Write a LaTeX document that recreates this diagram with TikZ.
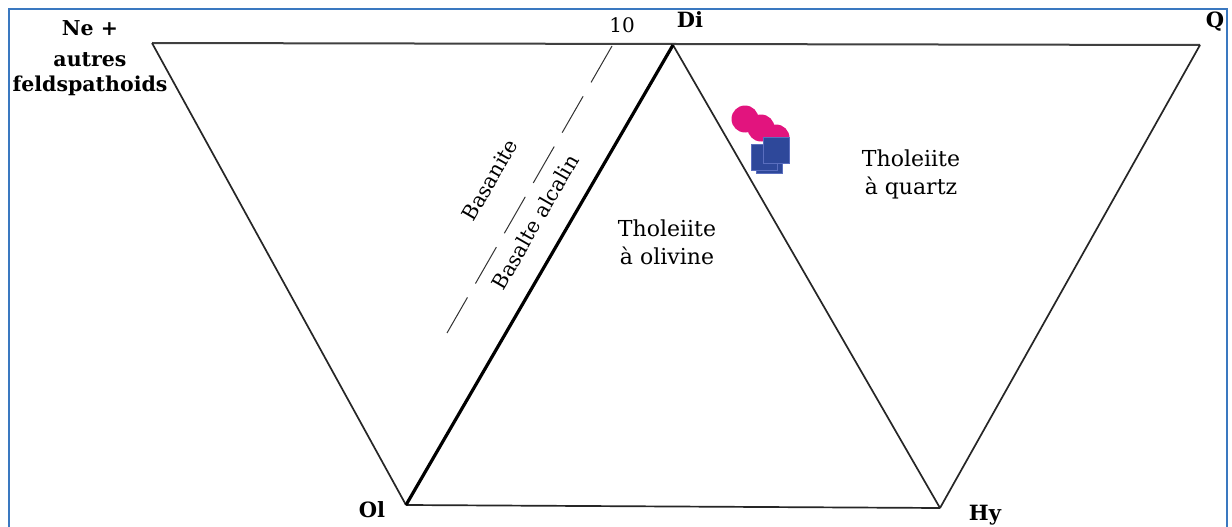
\documentclass[tikz,border=0pt]{standalone}
\usepackage{fontspec}
\setmainfont{DejaVu Serif}
\definecolor{framec}{RGB}{58,120,192}
\definecolor{pinkc}{RGB}{226,20,126}
\definecolor{bluec}{RGB}{46,72,154}
\definecolor{blueedge}{RGB}{90,110,190}
\begin{document}
\begin{tikzpicture}[x=1pt,y=-1pt,
  edge/.style={line width=1.7pt,black!85},
  thickedge/.style={line width=3.2pt,black},
  dashline/.style={line width=1pt,black!80,dash pattern=on 42pt off 16pt},
  vlabel/.style={font=\bfseries\fontsize{21}{24}\selectfont,inner sep=0pt},
  field/.style={font=\fontsize{22}{28}\selectfont,align=center,inner sep=0pt},
  rotlabel/.style={font=\fontsize{20.5}{22}\selectfont,inner sep=0pt,rotate=60},
  pinkdot/.style={circle,fill=pinkc,minimum size=27pt,inner sep=0pt},
  bluesq/.style={rectangle,fill=bluec,draw=blueedge,line width=0.6pt,minimum size=26pt,inner sep=0pt}
]
\useasboundingbox (0,0) rectangle (1232,527);
\fill[white] (0,0) rectangle (1232,527);
% frame
\draw[line width=2pt,color=framec] (8.5,560) -- (8.5,9) -- (1227,9) -- (1227,560);
% vertices
\coordinate (Ne) at (152,43);
\coordinate (Di) at (673,45);
\coordinate (Q) at (1200,45);
\coordinate (Ol) at (406,505);
\coordinate (Hy) at (940,508);
\coordinate (d1) at (447,333);
\coordinate (d2) at (612,46);
% lines
\draw[line width=2pt,black!75] (Ne) -- (Q);
\draw[edge] (Ne) -- (Ol);
\draw[edge] (Ol) -- (Hy);
\draw[edge] (Di) -- (Hy);
\draw[edge] (Hy) -- (Q);
\draw[thickedge] (Ol) -- (Di);
\draw[dashline] (d2) -- (d1);
% labels
\node[vlabel,align=center,font=\bfseries\fontsize{20.5}{25}\selectfont] (lne) at (90,58) {Ne +\\[6pt]autres\\feldspathoids};
\node[vlabel] (ldi) at (690,20) {Di};
\node[vlabel] (lq) at (1215,22) {Q};
\node[vlabel] (lol) at (372,510) {Ol};
\node[vlabel] (lhy) at (985,515) {Hy};
\node[font=\fontsize{20}{22}\selectfont,inner sep=0pt] (l10) at (622,25) {10};
\node[field] (tol) at (667,242) {Tholeiite\\à olivine};
\node[field] (tqz) at (911,174) {Tholeiite\\à quartz};
\node[rotlabel] (bsn) at (490,180) {Basanite};
\node[rotlabel] (bal) at (535,222) {Basalte alcalin};
% data points
\node[pinkdot] (p1) at (745,119) {};
\node[pinkdot] (p2) at (761,128) {};
\node[pinkdot] (p3) at (776,138) {};
\node[bluesq] (s1) at (769,160) {};
\node[bluesq] (s2) at (764,157) {};
\node[bluesq] (s3) at (776,150) {};
\end{tikzpicture}
\end{document}
